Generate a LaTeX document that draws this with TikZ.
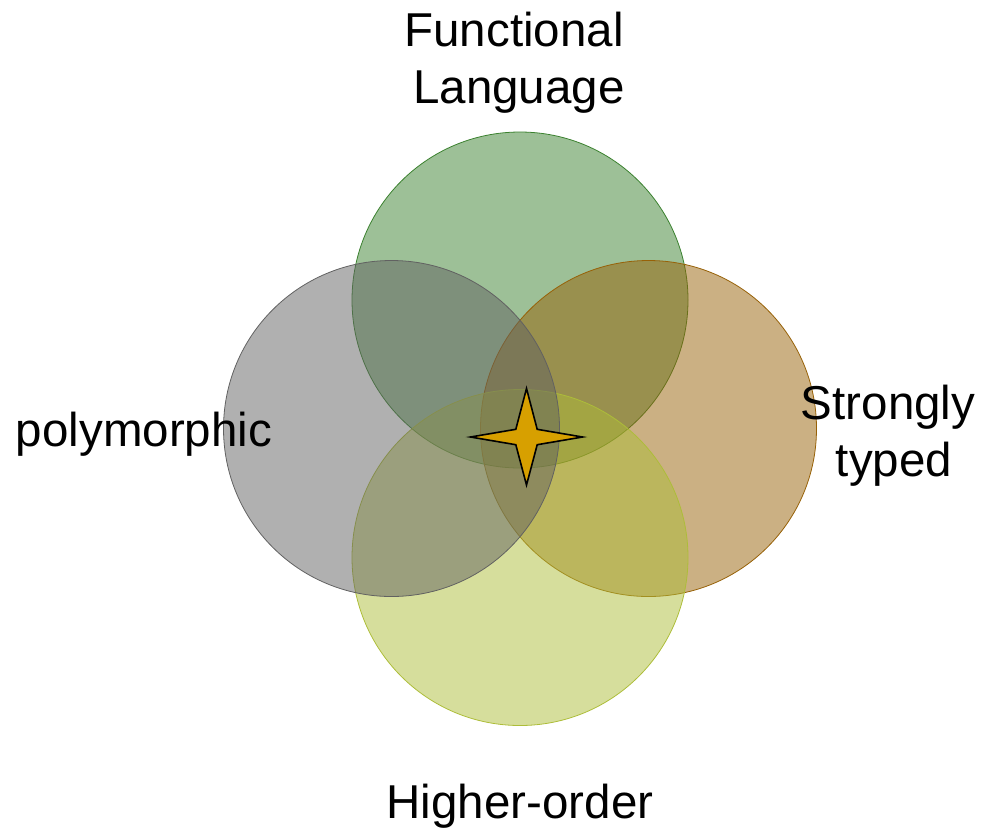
\documentclass[tikz,border=0pt]{standalone}
\usepackage{fontspec}
\setmainfont{Liberation Sans}
\definecolor{cgreen}{RGB}{59,129,47}
\definecolor{cgray}{RGB}{97,97,97}
\definecolor{ctan}{RGB}{151,97,7}
\definecolor{cyel}{RGB}{173,189,57}
\definecolor{cstar}{RGB}{215,160,0}
\tikzset{
  venn/.style={circle, minimum size=336pt, inner sep=0pt, fill opacity=0.5, line width=0.8pt},
  lbl/.style={anchor=base, inner sep=0pt, font=\fontsize{47.5}{58}\selectfont, text=black},
}
\begin{document}
\begin{tikzpicture}[x=1pt,y=-1pt]
\useasboundingbox (0,0) rectangle (981,831);
\node[venn, fill=cgreen, draw=cgreen] (fun) at (520,300) {};
\node[venn, fill=ctan, draw=ctan] (str) at (648.5,428.5) {};
\node[venn, fill=cyel, draw=cyel] (hig) at (520,557.5) {};
\node[venn, fill=cgray, draw=cgray] (pol) at (391.5,428.5) {};
\draw[fill=cstar, draw=black, line width=1.6pt, line join=miter]
  (526.5,388.5) -- (537.2,429.3) -- (582.5,437) -- (537.2,444.7) -- (526.5,485)
  -- (515.8,444.7) -- (470.5,437) -- (515.8,429.3) -- cycle;
\node[lbl] (fun1) at (514,46) {Functional};
\node[lbl] (fun2) at (519,103) {Language};
\node[lbl] (str1) at (888,419) {Strongly};
\node[lbl] (str2) at (894,476) {typed};
\node[lbl] (pol1) at (144,446) {polymorphic};
\node[lbl] (hig1) at (520,818) {Higher-order};
\end{tikzpicture}
\end{document}
